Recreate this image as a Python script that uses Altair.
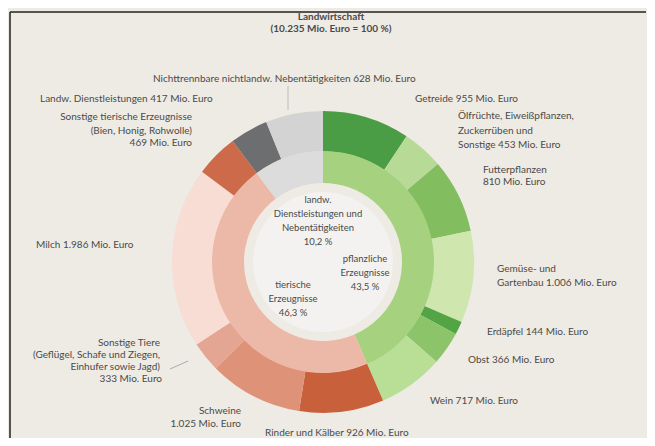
import altair as alt
import pandas as pd

# ---------------- data ----------------
outer_names = [
    "Getreide", "Ölfrüchte, Eiweißpflanzen, Zuckerrüben und Sonstige",
    "Futterpflanzen", "Gemüse- und Gartenbau", "Erdäpfel", "Obst", "Wein",
    "Rinder und Kälber", "Schweine", "Sonstige Tiere", "Milch",
    "Sonstige tierische Erzeugnisse", "Landw. Dienstleistungen",
    "Nichttrennbare nichtlandw. Nebentätigkeiten",
]
outer_values = [955, 453, 810, 1006, 144, 366, 717, 926, 1025, 333, 1986, 469, 417, 628]
outer_colors = [
    "#4a9d45", "#b7da96", "#82bd5f", "#cfe6ae", "#52a445", "#8cc46a", "#b9de95",
    "#c8603c", "#de9277", "#e4a592", "#f7ddd4", "#cd6a4a", "#6d6e70", "#d3d3d3",
]

inner_names = ["pflanzliche Erzeugnisse", "tierische Erzeugnisse",
               "landw. Dienstleistungen und Nebentätigkeiten"]
inner_values = [4451, 4739, 1045]
inner_colors = ["#a6d17f", "#ecb8a8", "#dcdcdc"]

title_lines = ["Landwirtschaft", "(10.235 Mio. Euro = 100 %)"]

label_lines = [
    "Nichttrennbare nichtlandw. Nebentätigkeiten 628 Mio. Euro",
    "Landw. Dienstleistungen 417 Mio. Euro",
    "Getreide 955 Mio. Euro",
    "Ölfrüchte, Eiweißpflanzen,", "Zuckerrüben und", "Sonstige  453 Mio. Euro",
    "Futterpflanzen", "810 Mio. Euro",
    "Gemüse- und", "Gartenbau  1.006 Mio. Euro",
    "Erdäpfel 144 Mio. Euro",
    "Obst 366 Mio. Euro",
    "Wein 717 Mio. Euro",
    "Rinder und Kälber  926 Mio. Euro",
    "Milch  1.986 Mio. Euro",
]
label_right_lines = [
    "Sonstige tierische Erzeugnisse", "(Bien, Honig, Rohwolle)", "469 Mio. Euro",
    "Sonstige Tiere", "(Geflügel, Schafe und Ziegen,", "Einhufer sowie Jagd)", "333 Mio. Euro",
    "Schweine", "1.025 Mio. Euro",
]
center_lines = [
    "landw.", "Dienstleistungen und", "Nebentätigkeiten", "10,2 %",
    "pflanzliche", "Erzeugnisse", "43,5 %",
    "tierische", "Erzeugnisse", "46,3 %",
]

# ---------------- layout (screen pixels) ----------------
M = 8                       # page margin
W, H = 639, 430
CX, CY = 323, 262
R1, R2, R3 = 79, 111, 151

title_pos = [(331, 17), (331, 29)]
label_pos = [
    (153, 79), (40, 99), (415, 99),
    (458, 116), (458, 131), (458, 145),
    (483, 170), (483, 182),
    (497, 269), (497, 283),
    (487, 332), (468, 360), (430, 401), (265, 433), (36, 245),
]
label_right_pos = [
    (192, 117), (192, 131), (192, 143),
    (160, 343), (160, 355), (160, 367), (162, 379),
    (241, 411), (241, 424),
]
center_pos = [
    (318, 200), (318, 214), (318, 228), (318, 242),
    (365, 259), (365, 273), (365, 287),
    (293, 285), (293, 299), (293, 313),
]

TXT = "#4a4a4a"
FONT = "Lato"

outer_df = pd.DataFrame({"name": outer_names, "value": outer_values,
                         "idx": list(range(len(outer_names)))})
inner_df = pd.DataFrame({"name": inner_names, "value": inner_values,
                         "idx": list(range(len(inner_names)))})


def pos_df(lines, pos):
    return pd.DataFrame({"t": lines, "x": [p[0] - M for p in pos],
                         "y": [p[1] - M for p in pos]})


outer = alt.Chart(outer_df).mark_arc(radius=R3, radius2=R2 - 0.5).encode(
    theta=alt.Theta("value:Q", stack=True, scale=alt.Scale(domain=[0, sum(outer_values)])),
    order=alt.Order("idx:Q"),
    color=alt.Color("name:N", scale=alt.Scale(domain=outer_names, range=outer_colors), legend=None),
    x=alt.value(CX - M), y=alt.value(CY - M),
)
inner = alt.Chart(inner_df).mark_arc(radius=R2, radius2=R1).encode(
    theta=alt.Theta("value:Q", stack=True, scale=alt.Scale(domain=[0, sum(inner_values)])),
    order=alt.Order("idx:Q"),
    color=alt.Color("name:N", scale=alt.Scale(domain=inner_names, range=inner_colors), legend=None),
    x=alt.value(CX - M), y=alt.value(CY - M),
)
hole = alt.Chart(pd.DataFrame({"v": [1]})).mark_circle(
    size=3.14159 * R1 * R1, color="#f3f2f0", opacity=1
).encode(x=alt.value(CX - M), y=alt.value(CY - M))


def text_layer(df, align, size=10, weight="normal"):
    return alt.Chart(df).mark_text(
        align=align, baseline="middle", font=FONT, fontSize=size,
        fontWeight=weight, color=TXT
    ).encode(
        x=alt.X("x:Q", scale=None, axis=None),
        y=alt.Y("y:Q", scale=None, axis=None),
        text="t:N",
    )


t_title = text_layer(pos_df(title_lines, title_pos), "center", 10, "bold")
t_left = text_layer(pos_df(label_lines, label_pos), "left", 10)
t_right = text_layer(pos_df(label_right_lines, label_right_pos), "right", 10)
t_center = text_layer(pos_df(center_lines, center_pos), "center", 9.5)

frame_top = alt.Chart(pd.DataFrame({"v": [1]})).mark_rule(color="#222222", strokeWidth=1.5).encode(
    x=alt.value(10 - M), x2=alt.value(646 - M), y=alt.value(12 - M))
frame_left = alt.Chart(pd.DataFrame({"v": [1]})).mark_rule(color="#222222", strokeWidth=1.5).encode(
    x=alt.value(10 - M), y=alt.value(12 - M), y2=alt.value(H))
lead1 = alt.Chart(pd.DataFrame({"v": [1]})).mark_rule(color="#9a9a9a", strokeWidth=0.8).encode(
    x=alt.value(170 - M), y=alt.value(369 - M), x2=alt.value(188 - M), y2=alt.value(361 - M))
lead2 = alt.Chart(pd.DataFrame({"v": [1]})).mark_rule(color="#b0b0b0", strokeWidth=0.8).encode(
    x=alt.value(288 - M), y=alt.value(86 - M), x2=alt.value(288 - M), y2=alt.value(110 - M))

chart = alt.layer(
    outer, inner, hole, t_title, t_left, t_right, t_center,
    frame_top, frame_left, lead1, lead2
).resolve_scale(
    theta="independent", color="independent"
).properties(
    width=W, height=H, autosize=alt.AutoSizeParams(type="none"), padding=0,
    background="#eeeae4"
).configure_view(stroke=None)

chart.save("out.html", embed_options={"renderer": "svg", "actions": False})
